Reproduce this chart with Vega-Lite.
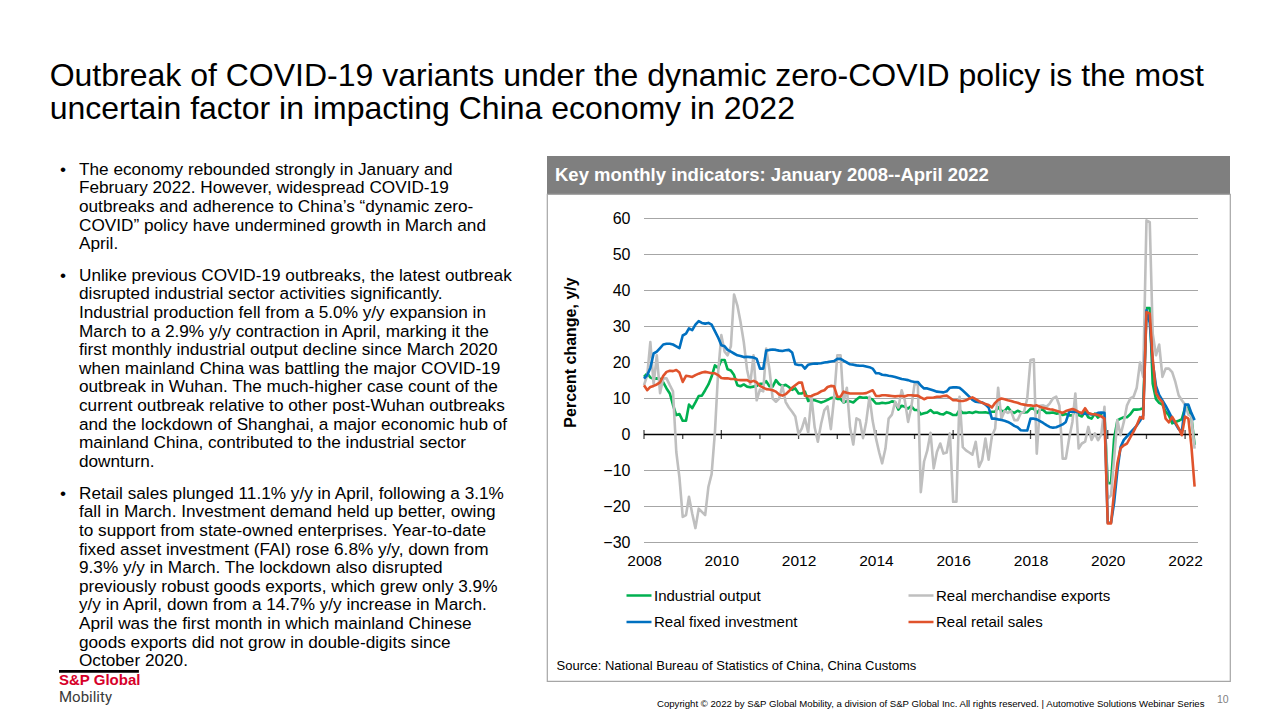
{
"$schema": "https://vega.github.io/schema/vega-lite/v6.json",
"background": "white",
"padding": {"left": 49, "top": 59, "right": 0, "bottom": 0},
"spacing": 17,
"title": {"text": ["Outbreak of COVID-19 variants under the dynamic zero-COVID policy is the most", "uncertain factor in impacting China economy in 2022"], "anchor": "start", "frame": "bounds", "dx": -8, "fontSize": 32, "fontWeight": "normal", "font": "Liberation Sans", "color": "#000000", "lineHeight": 33.4, "offset": 30},
"config": {"view": {"stroke": null}, "font": "Liberation Sans"},
"hconcat": [
{"vconcat": [
 {"width": 470, "height": 93,
  "data": {"values": [
   {"line": 0, "text": "The economy rebounded strongly in January and"},
   {"line": 1, "text": "February 2022. However, widespread COVID-19"},
   {"line": 2, "text": "outbreaks and adherence to China’s “dynamic zero-"},
   {"line": 3, "text": "COVID” policy have undermined growth in March and"},
   {"line": 4, "text": "April."}]},
  "layer": [
   {"mark": {"type": "text", "align": "left", "baseline": "alphabetic", "font": "Liberation Sans", "fontSize": 17.2, "color": "#000000", "dx": 20, "dy": 9.4},
    "encoding": {"x": {"datum": 0, "type": "quantitative", "scale": {"domain": [0, 1]}, "axis": null}, "y": {"field": "line", "type": "ordinal", "axis": null}, "text": {"field": "text", "type": "nominal"}}},
   {"data": {"values": [{"line": 0, "text": "•"}]},
    "mark": {"type": "text", "align": "left", "baseline": "alphabetic", "font": "Liberation Sans", "fontSize": 17.2, "color": "#000000", "dx": 1, "dy": 9.4},
    "encoding": {"x": {"datum": 0, "type": "quantitative", "axis": null}, "y": {"field": "line", "type": "ordinal", "axis": null}, "text": {"field": "text", "type": "nominal"}}}
  ]},
 {"width": 470, "height": 204.6,
  "data": {"values": [
   {"line": 0, "text": "Unlike previous COVID-19 outbreaks, the latest outbreak"},
   {"line": 1, "text": "disrupted industrial sector activities significantly."},
   {"line": 2, "text": "Industrial production fell from a 5.0% y/y expansion in"},
   {"line": 3, "text": "March to a 2.9% y/y contraction in April, marking it the"},
   {"line": 4, "text": "first monthly industrial output decline since March 2020"},
   {"line": 5, "text": "when mainland China was battling the major COVID-19"},
   {"line": 6, "text": "outbreak in Wuhan. The much-higher case count of the"},
   {"line": 7, "text": "current outbreak relative to other post-Wuhan outbreaks"},
   {"line": 8, "text": "and the lockdown of Shanghai, a major economic hub of"},
   {"line": 9, "text": "mainland China, contributed to the industrial sector"},
   {"line": 10, "text": "downturn."}]},
  "layer": [
   {"mark": {"type": "text", "align": "left", "baseline": "alphabetic", "font": "Liberation Sans", "fontSize": 17.2, "color": "#000000", "dx": 20, "dy": 9.4},
    "encoding": {"x": {"datum": 0, "type": "quantitative", "scale": {"domain": [0, 1]}, "axis": null}, "y": {"field": "line", "type": "ordinal", "axis": null}, "text": {"field": "text", "type": "nominal"}}},
   {"data": {"values": [{"line": 0, "text": "•"}]},
    "mark": {"type": "text", "align": "left", "baseline": "alphabetic", "font": "Liberation Sans", "fontSize": 17.2, "color": "#000000", "dx": 1, "dy": 9.4},
    "encoding": {"x": {"datum": 0, "type": "quantitative", "axis": null}, "y": {"field": "line", "type": "ordinal", "axis": null}, "text": {"field": "text", "type": "nominal"}}}
  ]},
 {"width": 470, "height": 223.2,
  "data": {"values": [
   {"line": 0, "text": "Retail sales plunged 11.1% y/y in April, following a 3.1%"},
   {"line": 1, "text": "fall in March. Investment demand held up better, owing"},
   {"line": 2, "text": "to support from state-owned enterprises. Year-to-date"},
   {"line": 3, "text": "fixed asset investment (FAI) rose 6.8% y/y, down from"},
   {"line": 4, "text": "9.3% y/y in March. The lockdown also disrupted"},
   {"line": 5, "text": "previously robust goods exports, which grew only 3.9%"},
   {"line": 6, "text": "y/y in April, down from a 14.7% y/y increase in March."},
   {"line": 7, "text": "April was the first month in which mainland Chinese"},
   {"line": 8, "text": "goods exports did not grow in double-digits since"},
   {"line": 9, "text": "October 2020."}]},
  "layer": [
   {"mark": {"type": "text", "align": "left", "baseline": "alphabetic", "font": "Liberation Sans", "fontSize": 17.2, "color": "#000000", "dx": 20, "dy": 9.4},
    "encoding": {"x": {"datum": 0, "type": "quantitative", "scale": {"domain": [0, 1]}, "axis": null}, "y": {"field": "line", "type": "ordinal", "axis": null, "scale": {"domain": [0, 1, 2, 3, 4, 5, 6, 7, 8, 9, 10, 11]}}, "text": {"field": "text", "type": "nominal"}}},
   {"data": {"values": [{"line": 0, "text": "•"}]},
    "mark": {"type": "text", "align": "left", "baseline": "alphabetic", "font": "Liberation Sans", "fontSize": 17.2, "color": "#000000", "dx": 1, "dy": 9.4},
    "encoding": {"x": {"datum": 0, "type": "quantitative", "axis": null}, "y": {"field": "line", "type": "ordinal", "axis": null}, "text": {"field": "text", "type": "nominal"}}},
   {"data": {"values": [{"line": 10}]},
    "mark": {"type": "rule", "color": "#000000", "strokeWidth": 2.7, "yOffset": -4},
    "encoding": {"x": {"datum": 0, "type": "quantitative", "axis": null}, "x2": {"datum": 0.17}, "y": {"field": "line", "type": "ordinal", "axis": null}}},
   {"data": {"values": [{"line": 10, "text": "S&P Global"}]},
    "mark": {"type": "text", "align": "left", "baseline": "alphabetic", "font": "Liberation Sans", "fontSize": 15, "fontWeight": "bold", "color": "#d6002a", "dx": 0, "dy": 9.4},
    "encoding": {"x": {"datum": 0, "type": "quantitative", "axis": null}, "y": {"field": "line", "type": "ordinal", "axis": null}, "text": {"field": "text", "type": "nominal"}}},
   {"data": {"values": [{"line": 11, "text": "Mobility"}]},
    "mark": {"type": "text", "align": "left", "baseline": "alphabetic", "font": "Roboto", "fontSize": 15, "color": "#3a3a3a", "dx": 0, "dy": 8.5},
    "encoding": {"x": {"datum": 0, "type": "quantitative", "axis": null}, "y": {"field": "line", "type": "ordinal", "axis": null}, "text": {"field": "text", "type": "nominal"}}}
  ]}
], "spacing": 13, "bounds": "flush"},
{"vconcat": [
 {"width": 683, "height": 38,
  "view": {"fill": "#7f7f7f", "stroke": null},
  "data": {"values": [{"text": "Key monthly indicators: January 2008--April 2022"}]},
  "mark": {"type": "text", "align": "left", "baseline": "alphabetic", "font": "Liberation Sans", "fontSize": 18.5, "fontWeight": "bold", "color": "#ffffff", "dx": 8, "dy": 6},
  "encoding": {"x": {"datum": 0, "type": "quantitative", "scale": {"domain": [0, 1]}, "axis": null}, "text": {"field": "text", "type": "nominal"}}},
 {"width": 683, "height": 487,
  "view": {"stroke": "#a6a6a6", "strokeWidth": 1.2},
  "layer": [
   {"data": {"values": [{"v": -30}, {"v": -20}, {"v": -10}, {"v": 10}, {"v": 20}, {"v": 30}, {"v": 40}, {"v": 50}, {"v": 60}]},
    "mark": {"type": "rule", "color": "#a6a6a6", "strokeWidth": 1},
    "encoding": {"y": {"field": "v", "type": "quantitative"}, "x": {"datum": {"year": 2008, "month": 1, "date": 1, "utc": true}, "type": "temporal"}, "x2": {"datum": {"year": 2022, "month": 5, "date": 3, "utc": true}}}},
   {"data": {"values": [{"v": 0}]},
    "mark": {"type": "rule", "color": "#000000", "strokeWidth": 1.3},
    "encoding": {"y": {"field": "v", "type": "quantitative"}, "x": {"datum": {"year": 2008, "month": 1, "date": 1, "utc": true}, "type": "temporal"}, "x2": {"datum": {"year": 2022, "month": 5, "date": 3, "utc": true}}}},
   {"data": {"values": [{"date": "2008-01-01"}, {"date": "2010-01-01"}, {"date": "2012-01-01"}, {"date": "2014-01-01"}, {"date": "2016-01-01"}, {"date": "2018-01-01"}, {"date": "2020-01-01"}, {"date": "2022-01-01"}]},
    "mark": {"type": "tick", "orient": "vertical", "size": 9, "thickness": 1.3, "color": "#000000"},
    "encoding": {"x": {"field": "date", "type": "temporal"}, "y": {"datum": 0, "type": "quantitative"}}},
   {"data": {"values": [{"date": "2009-01-01"}, {"date": "2011-01-01"}, {"date": "2013-01-01"}, {"date": "2015-01-01"}, {"date": "2017-01-01"}, {"date": "2019-01-01"}, {"date": "2021-01-01"}]},
    "mark": {"type": "tick", "orient": "vertical", "size": 4.5, "thickness": 1.3, "color": "#000000", "yOffset": 2.25},
    "encoding": {"x": {"field": "date", "type": "temporal"}, "y": {"datum": 0, "type": "quantitative"}}},
   {"data": {"values": [
{"date":"2008-01-01","io":16,"fai":15.5,"exp":13.7,"rs":13.7},
{"date":"2008-02-01","io":17,"fai":16.5,"exp":16.5,"rs":12.3},
{"date":"2008-03-01","io":15.8,"fai":18.5,"exp":25.7,"rs":13.2},
{"date":"2008-04-01","io":15.5,"fai":22.5,"exp":14,"rs":13.5},
{"date":"2008-05-01","io":15.6,"fai":23,"exp":22,"rs":13.9},
{"date":"2008-06-01","io":15.5,"fai":24,"exp":11.5,"rs":14.5},
{"date":"2008-07-01","io":14.5,"fai":25,"exp":15.6,"rs":16.3},
{"date":"2008-08-01","io":12.8,"fai":25.2,"exp":15.6,"rs":17.4},
{"date":"2008-09-01","io":11.4,"fai":25.2,"exp":13.7,"rs":17.7},
{"date":"2008-10-01","io":8.2,"fai":25,"exp":12,"rs":17.6},
{"date":"2008-11-01","io":5.4,"fai":24.5,"exp":-4.8,"rs":17.9},
{"date":"2008-12-01","io":5.7,"fai":24,"exp":-12,"rs":17.2},
{"date":"2009-01-01","io":3.8,"fai":27.5,"exp":-22.9,"rs":14.6},
{"date":"2009-02-01","io":3.8,"fai":28,"exp":-22.4,"rs":16.3},
{"date":"2009-03-01","io":8.3,"fai":29.5,"exp":-17.3,"rs":16.2},
{"date":"2009-04-01","io":7.3,"fai":29,"exp":-22,"rs":16},
{"date":"2009-05-01","io":8.9,"fai":30.5,"exp":-26,"rs":16.5},
{"date":"2009-06-01","io":10.7,"fai":31.5,"exp":-20.6,"rs":16.9},
{"date":"2009-07-01","io":10.8,"fai":31,"exp":-21.5,"rs":17.2},
{"date":"2009-08-01","io":12.3,"fai":30.8,"exp":-22.4,"rs":17.4},
{"date":"2009-09-01","io":13.9,"fai":31,"exp":-14.5,"rs":17.2},
{"date":"2009-10-01","io":16.1,"fai":30.5,"exp":-11,"rs":17},
{"date":"2009-11-01","io":19.2,"fai":28.7,"exp":0.5,"rs":17},
{"date":"2009-12-01","io":18.5,"fai":27,"exp":17,"rs":16.5},
{"date":"2010-01-01","io":20.7,"fai":24.8,"exp":27.6,"rs":15.7},
{"date":"2010-02-01","io":20.7,"fai":24.5,"exp":23,"rs":15.6},
{"date":"2010-03-01","io":18.1,"fai":23.5,"exp":22,"rs":15.6},
{"date":"2010-04-01","io":17.8,"fai":23,"exp":24.5,"rs":15.4},
{"date":"2010-05-01","io":16.5,"fai":22.5,"exp":38.9,"rs":15.4},
{"date":"2010-06-01","io":13.7,"fai":22,"exp":35.9,"rs":15.2},
{"date":"2010-07-01","io":13.4,"fai":21.8,"exp":31.3,"rs":15.1},
{"date":"2010-08-01","io":13.9,"fai":21.5,"exp":25.7,"rs":15.1},
{"date":"2010-09-01","io":13.3,"fai":21.6,"exp":18,"rs":15.1},
{"date":"2010-10-01","io":13.1,"fai":21.5,"exp":14,"rs":14.6},
{"date":"2010-11-01","io":13.3,"fai":21.4,"exp":22,"rs":14.9},
{"date":"2010-12-01","io":13.5,"fai":21,"exp":9.5,"rs":14.5},
{"date":"2011-01-01","io":14.1,"fai":18.3,"exp":12.5,"rs":13.5},
{"date":"2011-02-01","io":14.1,"fai":18.3,"exp":12,"rs":13},
{"date":"2011-03-01","io":14.8,"fai":23.3,"exp":23.9,"rs":12.6},
{"date":"2011-04-01","io":13.4,"fai":23.5,"exp":18,"rs":12.5},
{"date":"2011-05-01","io":13.3,"fai":23.6,"exp":10,"rs":12.3},
{"date":"2011-06-01","io":15.1,"fai":23.5,"exp":9.1,"rs":11.9},
{"date":"2011-07-01","io":14,"fai":23.3,"exp":10,"rs":11.1},
{"date":"2011-08-01","io":13.5,"fai":23.2,"exp":13.5,"rs":10.8},
{"date":"2011-09-01","io":13.8,"fai":23.4,"exp":9,"rs":11.2},
{"date":"2011-10-01","io":13.2,"fai":23.5,"exp":7.5,"rs":12},
{"date":"2011-11-01","io":12.4,"fai":22.8,"exp":6.3,"rs":13},
{"date":"2011-12-01","io":12.8,"fai":19.5,"exp":5,"rs":13.7},
{"date":"2012-01-01","io":11.4,"fai":19.3,"exp":0,"rs":14.4},
{"date":"2012-02-01","io":11.4,"fai":19.3,"exp":1.7,"rs":14.4},
{"date":"2012-03-01","io":11.9,"fai":18.3,"exp":4.5,"rs":10.8},
{"date":"2012-04-01","io":9.3,"fai":19.4,"exp":0.5,"rs":10.6},
{"date":"2012-05-01","io":9.6,"fai":19.6,"exp":10.5,"rs":10.7},
{"date":"2012-06-01","io":9.5,"fai":19.7,"exp":2,"rs":11.1},
{"date":"2012-07-01","io":9.2,"fai":19.7,"exp":-2,"rs":11.4},
{"date":"2012-08-01","io":8.9,"fai":19.8,"exp":3,"rs":12},
{"date":"2012-09-01","io":9.2,"fai":20,"exp":6.8,"rs":12.3},
{"date":"2012-10-01","io":9.6,"fai":20.1,"exp":7.8,"rs":13.2},
{"date":"2012-11-01","io":10.1,"fai":20.3,"exp":1.5,"rs":13.5},
{"date":"2012-12-01","io":10.3,"fai":20.4,"exp":10,"rs":13.4},
{"date":"2013-01-01","io":9.9,"fai":21,"exp":22,"rs":10.5},
{"date":"2013-02-01","io":9.9,"fai":21,"exp":22,"rs":10.5},
{"date":"2013-03-01","io":8.9,"fai":20.5,"exp":9,"rs":11.9},
{"date":"2013-04-01","io":9.3,"fai":20,"exp":13,"rs":11.6},
{"date":"2013-05-01","io":9.2,"fai":19.5,"exp":2,"rs":11.4},
{"date":"2013-06-01","io":8.9,"fai":19.4,"exp":-2.8,"rs":11.4},
{"date":"2013-07-01","io":9.7,"fai":19.2,"exp":4.5,"rs":11.4},
{"date":"2013-08-01","io":10.4,"fai":19.1,"exp":4,"rs":11.4},
{"date":"2013-09-01","io":10.2,"fai":19.1,"exp":-1,"rs":11.4},
{"date":"2013-10-01","io":10.3,"fai":18.9,"exp":3.5,"rs":11.5},
{"date":"2013-11-01","io":10,"fai":18.7,"exp":10.5,"rs":11.9},
{"date":"2013-12-01","io":9.7,"fai":18.3,"exp":3.8,"rs":12.3},
{"date":"2014-01-01","io":8.6,"fai":17,"exp":-1,"rs":10.7},
{"date":"2014-02-01","io":8.6,"fai":17,"exp":-5,"rs":10.7},
{"date":"2014-03-01","io":8.8,"fai":16.6,"exp":-8,"rs":10.9},
{"date":"2014-04-01","io":8.7,"fai":16.5,"exp":-3.9,"rs":10.9},
{"date":"2014-05-01","io":8.8,"fai":16.3,"exp":4.4,"rs":10.8},
{"date":"2014-06-01","io":9.2,"fai":16.2,"exp":5.5,"rs":10.7},
{"date":"2014-07-01","io":9,"fai":16,"exp":9,"rs":10.6},
{"date":"2014-08-01","io":6.9,"fai":15.7,"exp":7.5,"rs":10.7},
{"date":"2014-09-01","io":8,"fai":15.4,"exp":12.3,"rs":10.7},
{"date":"2014-10-01","io":7.7,"fai":15.3,"exp":9.5,"rs":10.6},
{"date":"2014-11-01","io":7.2,"fai":15.1,"exp":3.5,"rs":10.9},
{"date":"2014-12-01","io":7.9,"fai":14.8,"exp":7.5,"rs":10.9},
{"date":"2015-01-01","io":6.8,"fai":14.6,"exp":14,"rs":10.8},
{"date":"2015-02-01","io":6.8,"fai":14.6,"exp":14,"rs":10.8},
{"date":"2015-03-01","io":5.6,"fai":13.6,"exp":-16,"rs":10.3},
{"date":"2015-04-01","io":5.9,"fai":12.8,"exp":-7.5,"rs":9.8},
{"date":"2015-05-01","io":6.1,"fai":12.8,"exp":-4.5,"rs":10.2},
{"date":"2015-06-01","io":6.8,"fai":12.5,"exp":0.5,"rs":10.2},
{"date":"2015-07-01","io":6,"fai":12.2,"exp":-9.4,"rs":10.3},
{"date":"2015-08-01","io":6.1,"fai":11.9,"exp":-4.8,"rs":10.5},
{"date":"2015-09-01","io":5.7,"fai":11.8,"exp":-2.5,"rs":10.5},
{"date":"2015-10-01","io":5.6,"fai":11.7,"exp":-5.3,"rs":10.7},
{"date":"2015-11-01","io":6.2,"fai":12,"exp":-5,"rs":10.8},
{"date":"2015-12-01","io":5.9,"fai":13,"exp":0.3,"rs":10.2},
{"date":"2016-01-01","io":5.4,"fai":13.1,"exp":-18.7,"rs":9.5},
{"date":"2016-02-01","io":5.4,"fai":13.1,"exp":-18.7,"rs":9.5},
{"date":"2016-03-01","io":6.8,"fai":13,"exp":10.5,"rs":9.3},
{"date":"2016-04-01","io":6,"fai":12.2,"exp":-3.5,"rs":9.3},
{"date":"2016-05-01","io":6,"fai":11.4,"exp":-4.4,"rs":9.5},
{"date":"2016-06-01","io":6.2,"fai":10.5,"exp":-5,"rs":10},
{"date":"2016-07-01","io":6,"fai":9.6,"exp":-5.6,"rs":10.3},
{"date":"2016-08-01","io":6.3,"fai":9.1,"exp":-2,"rs":9.8},
{"date":"2016-09-01","io":6.1,"fai":9,"exp":-9,"rs":9.3},
{"date":"2016-10-01","io":6.1,"fai":8.9,"exp":-7.1,"rs":8.8},
{"date":"2016-11-01","io":6.2,"fai":8.3,"exp":-1.1,"rs":8.5},
{"date":"2016-12-01","io":6,"fai":7.5,"exp":-7,"rs":8.2},
{"date":"2017-01-01","io":6.3,"fai":4.4,"exp":-0.5,"rs":7.5},
{"date":"2017-02-01","io":6.3,"fai":4.4,"exp":1.7,"rs":8.8},
{"date":"2017-03-01","io":7.6,"fai":4.2,"exp":13,"rs":9.6},
{"date":"2017-04-01","io":6.5,"fai":4,"exp":4.4,"rs":10},
{"date":"2017-05-01","io":6.5,"fai":3.8,"exp":6.5,"rs":9.8},
{"date":"2017-06-01","io":7.6,"fai":3.5,"exp":6,"rs":9.5},
{"date":"2017-07-01","io":6.4,"fai":3,"exp":6.5,"rs":9.3},
{"date":"2017-08-01","io":6,"fai":2.4,"exp":4,"rs":9},
{"date":"2017-09-01","io":6.6,"fai":2,"exp":4,"rs":8.8},
{"date":"2017-10-01","io":6.2,"fai":1.2,"exp":5.9,"rs":8.5},
{"date":"2017-11-01","io":6.1,"fai":1.1,"exp":6.3,"rs":8.3},
{"date":"2017-12-01","io":6.2,"fai":1.1,"exp":10,"rs":8.1},
{"date":"2018-01-01","io":7.2,"fai":4.4,"exp":20.7,"rs":8.1},
{"date":"2018-02-01","io":7.2,"fai":4.4,"exp":20.9,"rs":7.9},
{"date":"2018-03-01","io":6,"fai":4.2,"exp":-5.3,"rs":8.1},
{"date":"2018-04-01","io":7,"fai":3.7,"exp":8,"rs":7.7},
{"date":"2018-05-01","io":6.8,"fai":3.2,"exp":8.1,"rs":7.4},
{"date":"2018-06-01","io":6,"fai":2.6,"exp":7.7,"rs":7.2},
{"date":"2018-07-01","io":6,"fai":2.1,"exp":8.6,"rs":7},
{"date":"2018-08-01","io":6.1,"fai":1.9,"exp":10,"rs":6.9},
{"date":"2018-09-01","io":5.8,"fai":2,"exp":10.5,"rs":6.6},
{"date":"2018-10-01","io":5.9,"fai":2.4,"exp":8,"rs":6.3},
{"date":"2018-11-01","io":5.4,"fai":2.8,"exp":-6.7,"rs":6},
{"date":"2018-12-01","io":5.7,"fai":3.5,"exp":-6.7,"rs":6.5},
{"date":"2019-01-01","io":5.3,"fai":6.3,"exp":-1.1,"rs":6.8},
{"date":"2019-02-01","io":5.3,"fai":6.3,"exp":3.5,"rs":7.1},
{"date":"2019-03-01","io":7,"fai":6.3,"exp":11.4,"rs":6.8},
{"date":"2019-04-01","io":5.4,"fai":6.1,"exp":-3.9,"rs":6.3},
{"date":"2019-05-01","io":5,"fai":5.8,"exp":-2.5,"rs":5.9},
{"date":"2019-06-01","io":6.3,"fai":5.8,"exp":-2,"rs":7.3},
{"date":"2019-07-01","io":4.8,"fai":5.7,"exp":2.1,"rs":6},
{"date":"2019-08-01","io":4.4,"fai":5.6,"exp":-1.5,"rs":5.7},
{"date":"2019-09-01","io":5.8,"fai":5.6,"exp":0.3,"rs":5.6},
{"date":"2019-10-01","io":4.7,"fai":6,"exp":-1.6,"rs":5.4},
{"date":"2019-11-01","io":5.8,"fai":6.1,"exp":0,"rs":5},
{"date":"2019-12-01","io":5.5,"fai":6,"exp":7.7,"rs":4.5},
{"date":"2020-01-01","io":-13.5,"fai":-24.5,"exp":-17.8,"rs":-24.7},
{"date":"2020-02-01","io":-13.5,"fai":-24.5,"exp":-16.9,"rs":-24.7},
{"date":"2020-03-01","io":-1.1,"fai":-19,"exp":-6.7,"rs":-16},
{"date":"2020-04-01","io":3.9,"fai":-10,"exp":4,"rs":-8},
{"date":"2020-05-01","io":4.4,"fai":-3.5,"exp":-0.2,"rs":-3.8},
{"date":"2020-06-01","io":4.8,"fai":-1.5,"exp":3.5,"rs":-3},
{"date":"2020-07-01","io":4.8,"fai":-0.5,"exp":8.1,"rs":-2.5},
{"date":"2020-08-01","io":5.6,"fai":0.5,"exp":10,"rs":-0.8},
{"date":"2020-09-01","io":6.9,"fai":1.5,"exp":10.5,"rs":0.8},
{"date":"2020-10-01","io":6.9,"fai":2.5,"exp":13,"rs":2.6},
{"date":"2020-11-01","io":7,"fai":3.8,"exp":20,"rs":4.8},
{"date":"2020-12-01","io":7.3,"fai":5.3,"exp":16,"rs":4.4},
{"date":"2021-01-01","io":35.1,"fai":34.5,"exp":59.5,"rs":34},
{"date":"2021-02-01","io":35.1,"fai":31,"exp":59,"rs":33.6},
{"date":"2021-03-01","io":14.1,"fai":20,"exp":28,"rs":21},
{"date":"2021-04-01","io":9.8,"fai":13.5,"exp":22,"rs":11.5},
{"date":"2021-05-01","io":8.8,"fai":11,"exp":25,"rs":10},
{"date":"2021-06-01","io":8.3,"fai":9.5,"exp":16,"rs":9},
{"date":"2021-07-01","io":6.4,"fai":8,"exp":18.3,"rs":4.4},
{"date":"2021-08-01","io":5.3,"fai":6.3,"exp":18.3,"rs":3.4},
{"date":"2021-09-01","io":3.1,"fai":4.5,"exp":17.3,"rs":4.9},
{"date":"2021-10-01","io":3.5,"fai":3,"exp":14.6,"rs":3.4},
{"date":"2021-11-01","io":3.8,"fai":1.5,"exp":10.9,"rs":1.8},
{"date":"2021-12-01","io":4.3,"fai":0.7,"exp":9.5,"rs":-0.2},
{"date":"2022-01-01","io":7.5,"fai":8.3,"exp":8.3,"rs":5},
{"date":"2022-02-01","io":7.5,"fai":8.3,"exp":5.5,"rs":4.4},
{"date":"2022-03-01","io":5,"fai":6,"exp":5,"rs":-3},
{"date":"2022-04-01","io":-2.9,"fai":4,"exp":-3.9,"rs":-14.5}
    ]},
    "transform": [{"fold": ["io", "exp", "fai", "rs"], "as": ["series", "value"]}],
    "mark": {"type": "line", "strokeWidth": 2.6, "strokeJoin": "round"},
    "encoding": {
     "x": {"field": "date", "type": "temporal",
       "scale": {"type": "utc", "domain": [{"year": 2008, "month": 1, "date": 1, "utc": true}, {"year": 2022, "month": 5, "date": 3, "utc": true}], "range": [97, 651]},
       "axis": {"orient": "bottom", "offset": -132, "domain": false, "ticks": false, "grid": false,
         "values": [{"year": 2008, "month": 1, "date": 1, "utc": true}, {"year": 2010, "month": 1, "date": 1, "utc": true}, {"year": 2012, "month": 1, "date": 1, "utc": true}, {"year": 2014, "month": 1, "date": 1, "utc": true}, {"year": 2016, "month": 1, "date": 1, "utc": true}, {"year": 2018, "month": 1, "date": 1, "utc": true}, {"year": 2020, "month": 1, "date": 1, "utc": true}, {"year": 2022, "month": 1, "date": 1, "utc": true}],
         "format": "%Y", "formatType": "utc", "labelFontSize": 15.5, "labelColor": "#000000", "labelFont": "Liberation Sans", "labelPadding": 4, "labelFlush": false, "labelOverlap": false,
         "title": "Source: National Bureau of Statistics of China, China Customs", "titleFont": "Liberation Sans", "titleFontSize": 13, "titleFontWeight": "normal", "titleColor": "#000000", "titleX": 9, "titleY": 120, "titleAlign": "left", "titleBaseline": "alphabetic"}},
     "y": {"field": "value", "type": "quantitative",
       "scale": {"domain": [-30, 60], "range": [348.5, 24.5], "nice": false, "zero": false},
       "axis": {"orient": "left", "offset": -87, "domain": false, "ticks": false, "grid": false, "values": [-30, -20, -10, 0, 10, 20, 30, 40, 50, 60],
         "labelFontSize": 16, "labelFont": "Liberation Sans", "labelColor": "#000000", "labelPadding": 4,
         "title": "Percent change, y/y", "titleFont": "Liberation Sans", "titleFontSize": 16, "titleFontWeight": "bold", "titleColor": "#000000", "titleX": -59, "titleY": 158, "titleAngle": 270, "titleAlign": "center", "titleBaseline": "alphabetic"}},
     "color": {"field": "series", "type": "nominal", "sort": ["io", "exp", "fai", "rs"],
       "scale": {"domain": ["io", "exp", "fai", "rs"], "range": ["#00b050", "#bfbfbf", "#0070c0", "#e0532c"]},
       "legend": {"orient": "none", "legendX": 566, "legendY": 425.5, "direction": "horizontal", "columns": 2, "title": null,
         "symbolType": "stroke", "symbolSize": 625, "symbolStrokeWidth": 2.5, "labelFontSize": 15, "labelFont": "Liberation Sans", "labelColor": "#000000",
         "labelOffset": 1, "labelLimit": 400, "columnPadding": 105, "rowPadding": 4.5, "padding": 0,
         "labelExpr": "datum.label == 'io' ? 'Industrial output' : datum.label == 'exp' ? 'Real merchandise exports' : datum.label == 'fai' ? 'Real fixed investment' : 'Real retail sales'"}}
    }}
  ]},
 {"width": 683, "height": 38,
  "layer": [
   {"data": {"values": [{"text": "Copyright © 2022 by S&P Global Mobility, a division of S&P Global Inc. All rights reserved. | Automotive Solutions Webinar Series"}]},
    "mark": {"type": "text", "align": "left", "baseline": "middle", "font": "Liberation Sans", "fontSize": 9.6, "color": "#000000", "dx": 110, "dy": 4},
    "encoding": {"x": {"datum": 0, "type": "quantitative", "scale": {"domain": [0, 1]}, "axis": null}, "text": {"field": "text", "type": "nominal"}}},
   {"data": {"values": [{"text": "10"}]},
    "mark": {"type": "text", "align": "left", "baseline": "middle", "font": "Liberation Sans", "fontSize": 10.5, "color": "#7f7f7f", "dx": 670, "dy": 0},
    "encoding": {"x": {"datum": 0, "type": "quantitative", "axis": null}, "text": {"field": "text", "type": "nominal"}}}
  ]}
], "spacing": 0, "bounds": "flush"}
]
}
